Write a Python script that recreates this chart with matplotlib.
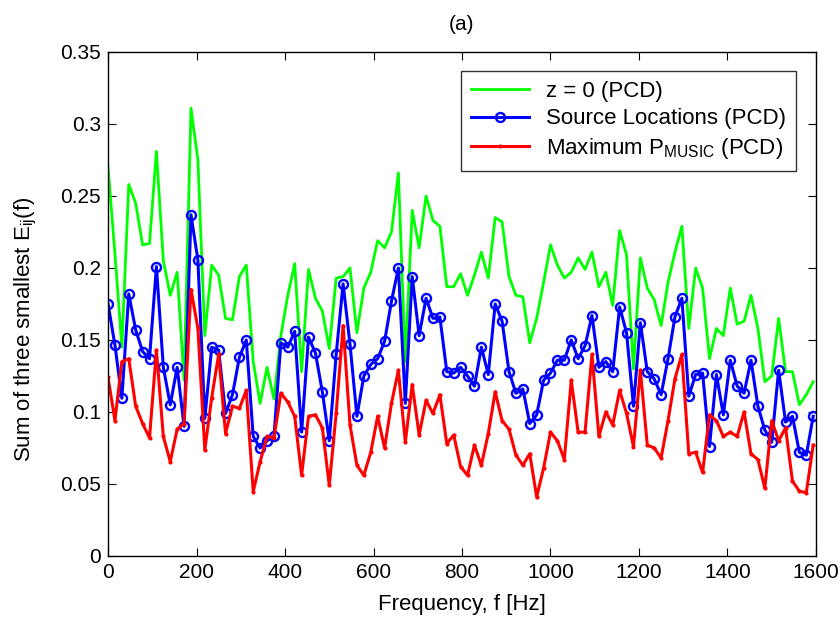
import numpy as np
import matplotlib as mpl
mpl.use('Agg')
import matplotlib.pyplot as plt

plt.rcParams['font.family'] = ['Liberation Sans', 'DejaVu Sans']
plt.rcParams['mathtext.fontset'] = 'custom'
plt.rcParams['mathtext.rm'] = 'Liberation Sans'
plt.rcParams['mathtext.it'] = 'Liberation Sans'
plt.rcParams['xtick.direction'] = 'in'
plt.rcParams['ytick.direction'] = 'in'

# frequency bins: 15.625 Hz resolution, 0 .. 1593.75 Hz
n_bins = 103
df = 15.625
freq = np.arange(n_bins) * df

z0_pcd = [0.270, 0.210, 0.145, 0.258, 0.245, 0.216, 0.217, 0.281, 0.205, 0.181,
          0.197, 0.122, 0.311, 0.275, 0.153, 0.202, 0.195, 0.165, 0.164, 0.194,
          0.202, 0.135, 0.106, 0.131, 0.109, 0.153, 0.181, 0.203, 0.128, 0.199,
          0.179, 0.170, 0.144, 0.193, 0.194, 0.200, 0.155, 0.186, 0.197, 0.219,
          0.214, 0.225, 0.266, 0.135, 0.240, 0.214, 0.250, 0.233, 0.229, 0.187,
          0.187, 0.196, 0.181, 0.195, 0.211, 0.193, 0.235, 0.232, 0.194, 0.181,
          0.180, 0.148, 0.165, 0.190, 0.216, 0.202, 0.193, 0.197, 0.207, 0.199,
          0.211, 0.187, 0.197, 0.174, 0.226, 0.209, 0.130, 0.207, 0.186, 0.178,
          0.160, 0.190, 0.211, 0.229, 0.158, 0.200, 0.186, 0.137, 0.158, 0.153,
          0.186, 0.161, 0.163, 0.181, 0.158, 0.121, 0.125, 0.165, 0.128, 0.128,
          0.105, 0.112, 0.121]

src_pcd = [0.175, 0.1465, 0.1095, 0.182, 0.157, 0.142, 0.137, 0.201, 0.131, 0.105,
           0.131, 0.090, 0.237, 0.2055, 0.0956, 0.145, 0.143, 0.099, 0.112, 0.138,
           0.150, 0.083, 0.075, 0.080, 0.083, 0.148, 0.145, 0.156, 0.086, 0.152,
           0.141, 0.114, 0.080, 0.140, 0.189, 0.147, 0.097, 0.125, 0.133, 0.137,
           0.149, 0.177, 0.200, 0.106, 0.194, 0.153, 0.179, 0.165, 0.166, 0.128,
           0.127, 0.131, 0.125, 0.118, 0.145, 0.126, 0.175, 0.163, 0.128, 0.113,
           0.116, 0.092, 0.098, 0.122, 0.127, 0.136, 0.136, 0.150, 0.137, 0.146,
           0.167, 0.131, 0.135, 0.128, 0.173, 0.155, 0.104, 0.162, 0.128, 0.123,
           0.112, 0.137, 0.166, 0.179, 0.111, 0.126, 0.127, 0.076, 0.126, 0.098,
           0.136, 0.118, 0.113, 0.136, 0.104, 0.0875, 0.079, 0.129, 0.093, 0.097,
           0.072, 0.070, 0.097]

pmusic_pcd = [0.124, 0.094, 0.135, 0.137, 0.104, 0.092, 0.082, 0.143, 0.083, 0.0655,
              0.088, 0.092, 0.185, 0.158, 0.0736, 0.110, 0.140, 0.085, 0.104, 0.1025,
              0.115, 0.0447, 0.0655, 0.083, 0.082, 0.113, 0.107, 0.097, 0.056, 0.097,
              0.098, 0.089, 0.049, 0.099, 0.160, 0.091, 0.063, 0.056, 0.072, 0.097,
              0.075, 0.106, 0.129, 0.079, 0.119, 0.084, 0.108, 0.099, 0.112, 0.078,
              0.084, 0.062, 0.056, 0.077, 0.063, 0.085, 0.114, 0.094, 0.088, 0.070,
              0.063, 0.071, 0.041, 0.061, 0.086, 0.080, 0.067, 0.122, 0.086, 0.086,
              0.140, 0.083, 0.100, 0.091, 0.115, 0.099, 0.076, 0.129, 0.077, 0.075,
              0.068, 0.094, 0.123, 0.140, 0.071, 0.072, 0.058, 0.098, 0.094, 0.083,
              0.086, 0.083, 0.100, 0.071, 0.067, 0.047, 0.094, 0.080, 0.089, 0.052,
              0.045, 0.044, 0.077]

fig = plt.figure(figsize=(8.4, 6.24), dpi=100)
ax = fig.add_axes([0.1286, 0.109, 0.8428, 0.8077])

ax.plot(freq, z0_pcd, color=(0, 1, 0), lw=2, label='z = 0 (PCD)')
ax.plot(freq, src_pcd, color=(0, 0, 1), lw=2.2, marker='o', ms=6.5,
        mfc='none', mew=1.7, label='Source Locations (PCD)')
ax.plot(freq, pmusic_pcd, color=(1, 0, 0), lw=2.2, marker='.', ms=4,
        label='Maximum P$_{MUSIC}$ (PCD)')

ax.set_xlim(0, 1600)
ax.set_ylim(0, 0.35)
ax.set_xticks(np.arange(0, 1601, 200))
ax.set_yticks(np.arange(0, 0.351, 0.05))
ax.set_yticklabels(['0', '0.05', '0.1', '0.15', '0.2', '0.25', '0.3', '0.35'])
ax.tick_params(labelsize=15, length=6, width=0.8, top=True, right=True, pad=5)
for s in ax.spines.values():
    s.set_linewidth(1.0)

ax.set_xlabel('Frequency, f [Hz]', fontsize=16)
ax.xaxis.set_label_coords(0.5, -0.075)
ax.set_ylabel('Sum of three smallest E$_{ij}$(f)', fontsize=16)
ax.yaxis.set_label_coords(-0.098, 0.45)
ax.set_title('(a)', fontsize=15, pad=16)

leg = ax.legend(loc='upper right', fontsize=16, frameon=True, fancybox=False,
                edgecolor='black', borderpad=0.45, handlelength=2.6,
                handletextpad=0.8, labelspacing=0.3,
                bbox_to_anchor=(0.988, 0.985))
leg.get_frame().set_linewidth(1.0)

fig.savefig('out.png', dpi=100)
